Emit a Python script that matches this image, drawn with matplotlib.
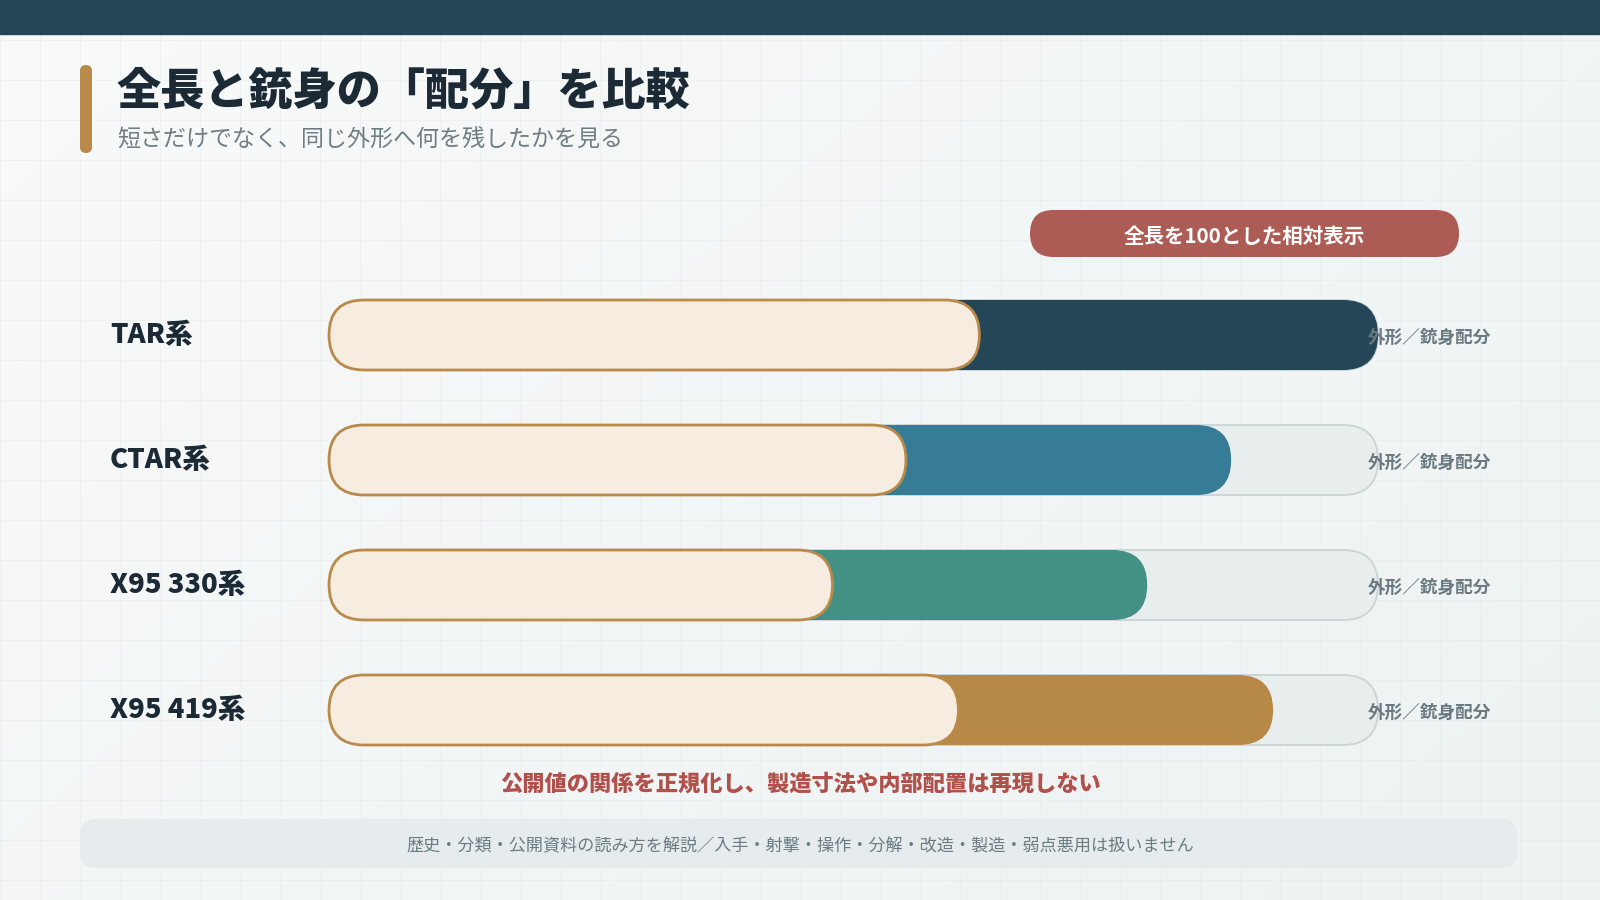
"""全長と銃身の配分 比較チャート"""
import numpy as np
import matplotlib.pyplot as plt
from matplotlib.patches import FancyBboxPatch, Rectangle
from matplotlib.colors import LinearSegmentedColormap
from matplotlib.transforms import blended_transform_factory

plt.rcParams['font.family'] = ['Noto Sans CJK JP', 'DejaVu Sans']

# data (TARの全長 = 100)
models = ["TAR系", "CTAR系", "X95 330系", "X95 419系"]
overall = [100, 86, 78, 90]
barrel = [62, 55, 48, 60]
bar_colors = ["#244657", "#377C97", "#429184", "#B78947"]
row_note = "外形／銃身配分"

title = "全長と銃身の「配分」を比較"
subtitle = "短さだけでなく、同じ外形へ何を残したかを見る"
badge = "全長を100とした相対表示"
note = "公開値の関係を正規化し、製造寸法や内部配置は再現しない"
footer = "歴史・分類・公開資料の読み方を解説／入手・射撃・操作・分解・改造・製造・弱点悪用は扱いません"

W, H = 1600, 900
fig = plt.figure(figsize=(16, 9), dpi=100)

# background layer, pixel coordinates
bg = fig.add_axes([0, 0, 1, 1])
bg.set_xlim(0, W)
bg.set_ylim(H, 0)
bg.axis('off')

gx, gy = np.meshgrid(np.linspace(0, 1, 200), np.linspace(0, 1, 120))
cmap = LinearSegmentedColormap.from_list("bg", ["#F9FAFA", "#EDF2F2"])
bg.imshow(0.6 * gx + 0.4 * gy, extent=(0, W, H, 0), cmap=cmap,
          aspect='auto', zorder=0)
for gxp in range(0, W, 40):
    bg.plot([gxp, gxp], [0, H], color="#E2E9E9", lw=0.5, alpha=0.6, zorder=0.5)
for gyp in range(0, H, 40):
    bg.plot([0, W], [gyp, gyp], color="#E2E9E9", lw=0.5, alpha=0.6, zorder=0.5)

bg.add_patch(Rectangle((0, 0), W, 34, color="#244657", zorder=2))
bg.add_patch(FancyBboxPatch((80, 65), 12, 88, boxstyle="round,pad=0,rounding_size=6",
                            fc="#B98A4A", ec="none", zorder=2))
bg.text(117, 91, title, fontsize=31.8, weight='black', color="#1B2A35",
        va='center', ha='left', zorder=3)
bg.text(117, 140, subtitle, fontsize=16.6, color="#6F7D84",
        va='center', ha='left', zorder=3)

bg.add_patch(FancyBboxPatch((1030, 210), 429, 47, boxstyle="round,pad=0,rounding_size=23.5",
                            fc="#AD5B55", ec="none", zorder=2))
bg.text(1244.5, 236, badge, fontsize=14.8, weight='bold', color="white",
        va='center', ha='center', zorder=3)

bg.text(800, 784, note, fontsize=16.0, weight='black', color="#B0524B",
        va='center', ha='center', zorder=3)
bg.add_patch(FancyBboxPatch((80, 819), 1437, 49, boxstyle="round,pad=0,rounding_size=16",
                            fc="#E6ECED", ec="none", zorder=2))
bg.text(800, 846, footer, fontsize=12.3, color="#6B7B82",
        va='center', ha='center', zorder=3)

# bar layer
x0, x1 = 329, 1378
row_px = 125
top_px = 335 - row_px / 2
ax = fig.add_axes([x0 / W, 1 - (top_px + 4 * row_px) / H, (x1 - x0) / W, 4 * row_px / H])
ax.set_xlim(0, 100)
ax.set_ylim(len(models) - 0.5, -0.5)
ax.axis('off')
ax.patch.set_alpha(0)

# keep rounded ends circular on this non-square data scale
m_aspect = (1 / row_px) / (100 / (x1 - x0))
h = 70 / row_px
rs = (h / m_aspect) / 2


def pill(x, y, w, **kw):
    p = FancyBboxPatch((x, y - h / 2), w, h, boxstyle=f"round,pad=0,rounding_size={rs}",
                       mutation_aspect=m_aspect, clip_on=False, **kw)
    ax.add_patch(p)


lab_tr = blended_transform_factory(bg.transData, ax.transData)
for i, name in enumerate(models):
    pill(0, i, 100, fc="#E8EEEE", ec="#CCD6D8", lw=1.4, zorder=1)
    pill(0, i, overall[i], fc=bar_colors[i], ec="none", zorder=2)
    pill(0, i, barrel[i], fc="#F6ECDF", ec="#B98A4A", lw=2.0, zorder=3)
    ax.text(110, i, name, transform=lab_tr, fontsize=19.8, weight='black',
            color="#1B2A35", va='center', ha='left')
    ax.text(1368, i + 0.02, row_note, transform=lab_tr, fontsize=12.7, weight='bold',
            color="#6A7A80", va='center', ha='left', zorder=5)

fig.savefig("out.png", dpi=100)
